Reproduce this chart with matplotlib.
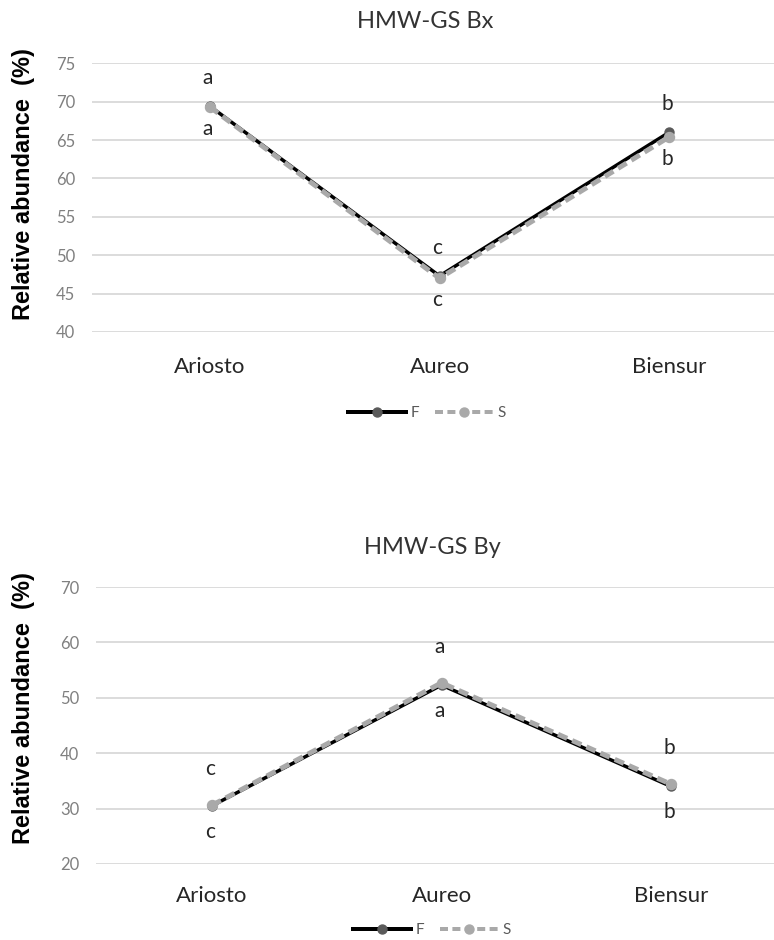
import matplotlib
matplotlib.use("Agg")
import matplotlib.pyplot as plt
from matplotlib.lines import Line2D

categories = ["Ariosto", "Aureo", "Biensur"]

bx_F = [69.4, 47.3, 66.0]
bx_S = [69.3, 47.0, 65.4]
bx_letters_upper = ["a", "c", "b"]
bx_letters_lower = ["a", "c", "b"]

by_F = [30.5, 52.3, 34.0]
by_S = [30.6, 52.7, 34.4]
by_letters_upper = ["c", "a", "b"]
by_letters_lower = ["c", "a", "b"]

bx_yticks = [40, 45, 50, 55, 60, 65, 70, 75]
by_yticks = [20, 30, 40, 50, 60, 70]

W, H = 774, 940
fig = plt.figure(figsize=(W / 100, H / 100), dpi=100)

FONT = ["Lato", "DejaVu Sans"]
F_COLOR = "#000000"
F_MARK = "#5a5a5a"
S_COLOR = "#a9a9a9"
GRID = "#d9d9d9"
px = 0.72  # points per pixel at 100 dpi


def panel(rect, xlim, ylim, yticks, F, S, up, low, title, title_xy, ylab_y,
          leg_xy, off_up, off_low, xpad):
    ax = fig.add_axes(rect)
    x = list(range(len(categories)))
    ax.plot(x, F, color=F_COLOR, lw=3.5 * px, marker="o", ms=9 * px,
            mfc=F_MARK, mec=F_MARK, zorder=3, clip_on=False,
            solid_capstyle="round")
    ax.plot(x, S, color=S_COLOR, lw=5 * px, ls=(0, (2.0, 1.1)),
            marker="o", ms=10 * px, mfc=S_COLOR, mec=S_COLOR, zorder=4,
            clip_on=False)
    ax.set_xlim(*xlim)
    ax.set_ylim(*ylim)
    ax.set_yticks(yticks)
    ax.set_xticks(x)
    ax.set_xticklabels(categories, fontfamily=FONT, fontsize=16,
                       color="#262626")
    ax.set_yticklabels([str(v) for v in yticks], fontfamily=FONT,
                       fontsize=12, color="#808080")
    ax.tick_params(axis="both", length=0)
    ax.tick_params(axis="y", pad=12)
    ax.tick_params(axis="x", pad=xpad)
    for s in ax.spines.values():
        s.set_visible(False)
    ax.yaxis.grid(True, color=GRID, lw=1.3)
    ax.set_axisbelow(True)
    for i in x:
        ax.annotate(up[i], (i, max(F[i], S[i])), xytext=(-2, off_up),
                    textcoords="offset pixels", ha="center", va="center",
                    fontfamily=FONT, fontsize=15, color="#262626")
        ax.annotate(low[i], (i, min(F[i], S[i])), xytext=(-2, -off_low),
                    textcoords="offset pixels", ha="center", va="center",
                    fontfamily=FONT, fontsize=15, color="#262626")
    fig.text(title_xy[0] / W, 1 - title_xy[1] / H, title, ha="center",
             va="center", fontfamily=FONT, fontsize=17, color="#333333")
    fig.text(24 / W, 1 - ylab_y / H, "Relative abundance  (%)", rotation=90,
             ha="center", va="center", fontfamily=["Liberation Sans", "DejaVu Sans"],
             fontweight="bold", fontsize=17, color="#000000")
    handles = [
        Line2D([], [], color=F_COLOR, lw=4 * px, marker="o", ms=9 * px,
               mfc=F_MARK, mec=F_MARK),
        Line2D([], [], color=S_COLOR, lw=4 * px, ls=(0, (2.0, 1.1)),
               marker="o", ms=9 * px, mfc=S_COLOR, mec=S_COLOR),
    ]
    fig.legend(handles, ["F", "S"], loc="center",
               bbox_to_anchor=(leg_xy[0] / W, 1 - leg_xy[1] / H), ncol=2,
               frameon=False, prop={"family": FONT, "size": 11},
               labelcolor="#595959", handlelength=3.8, handletextpad=0.3,
               columnspacing=1.0)
    return ax


# top panel (Bx)
panel([92 / W, 1 - 332 / H, (774 - 92) / W, (332 - 63.3) / H],
      ((92 - 210) / 229.5, (774 - 210) / 229.5), (40, 75), bx_yticks,
      bx_F, bx_S, bx_letters_upper, bx_letters_lower, "HMW-GS Bx",
      (425, 22), 184.5, (427, 413), 28, 22, 18)

# bottom panel (By)
panel([96 / W, 1 - 864 / H, (774 - 96) / W, (864 - 587) / H],
      ((96 - 212) / 229.5, (774 - 212) / 229.5), (20, 70), by_yticks,
      by_F, by_S, by_letters_upper, by_letters_lower, "HMW-GS By",
      (432, 547), 708.5, (432, 930), 36, 26, 16)

fig.savefig("out.png", dpi=100)
